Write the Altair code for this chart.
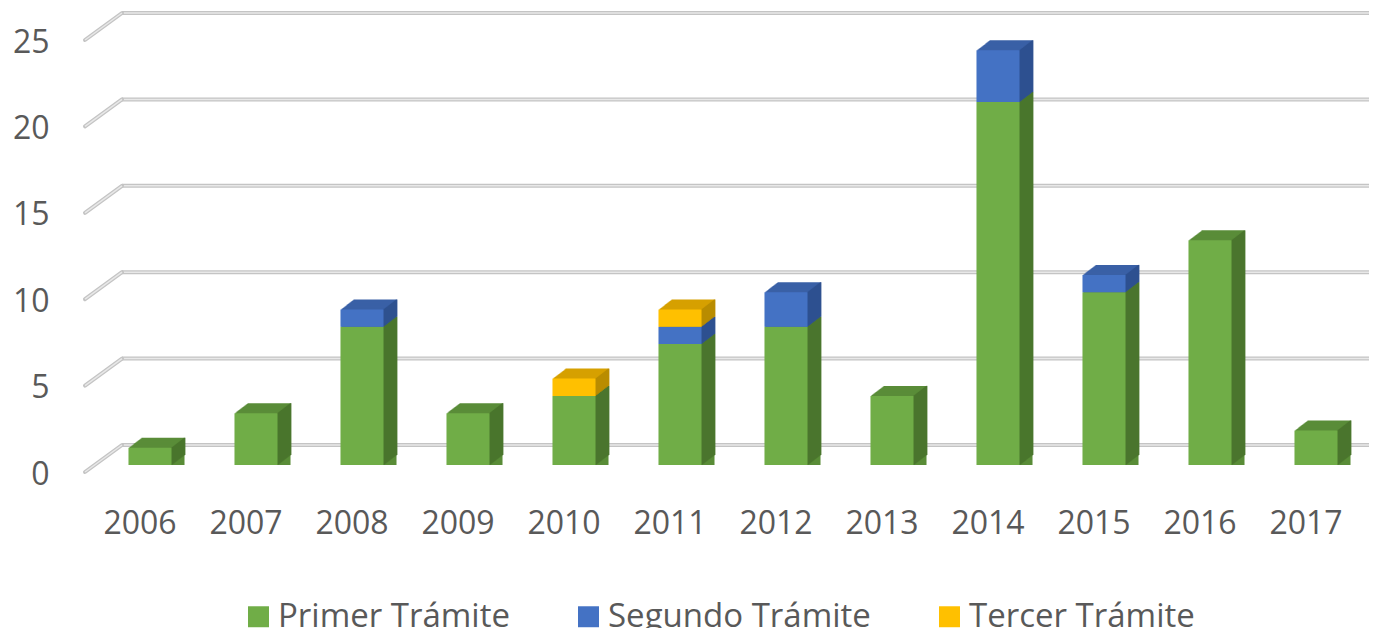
import altair as alt
import pandas as pd

years = ["2006", "2007", "2008", "2009", "2010", "2011", "2012", "2013", "2014", "2015", "2016", "2017"]
primer = [1, 3, 8, 3, 4, 7, 8, 4, 21, 10, 13, 2]
segundo = [0, 0, 1, 0, 0, 1, 2, 0, 3, 1, 0, 0]
tercer = [0, 0, 0, 0, 1, 1, 0, 0, 0, 0, 0, 0]
series = ["Primer Trámite", "Segundo Trámite", "Tercer Trámite"]
colors = ["#70AD47", "#4472C4", "#FFC000"]
top_colors = ["#5A8C38", "#3A61A6", "#D6A000"]
side_colors = ["#4A762D", "#2E5190", "#BA8C00"]
grid_values = [0, 5, 10, 15, 20, 25]

rows = []
for s_i, (name, vals) in enumerate(zip(series, [primer, segundo, tercer])):
    for y, v in zip(years, vals):
        rows.append({"year": y, "serie": name, "value": v, "ord": s_i,
                     "top": top_colors[s_i], "side": side_colors[s_i]})
df = pd.DataFrame(rows)
grid_df = pd.DataFrame({"v": grid_values})

FONT = "Open Sans"
TXT = "#595959"

xscale = alt.Scale(domain=years, paddingInner=0.594, paddingOuter=0.297)
yscale = alt.Scale(domain=[0, 25], nice=False, zero=True)

xaxis = alt.Axis(domain=False, ticks=False, grid=False, labelAngle=0, title=None,
                 labelFont=FONT, labelFontSize=32, labelColor=TXT,
                 labelBaseline="middle", labelPadding=58, labelOffset=-10)
yaxis = alt.Axis(domain=False, ticks=False, grid=False, values=grid_values, title=None,
                 labelFont=FONT, labelFontSize=32, labelColor=TXT,
                 labelBaseline="middle", labelPadding=48, labelOffset=9)

# back wall gridlines
def rule(color, width, **kw):
    return alt.Chart(grid_df).mark_rule(color=color, strokeWidth=width, **kw)

grid_a = rule("#c4c4c4", 4, yOffset=-20).encode(
    y=alt.Y("v:Q", scale=yscale, axis=yaxis), x=alt.value(25), x2=alt.value(1300))
grid_b = rule("#e8e8e8", 1.5, yOffset=-20).encode(
    y=alt.Y("v:Q", scale=yscale, axis=yaxis), x=alt.value(25), x2=alt.value(1300))
diag_a = rule("#c4c4c4", 4, yOffset=7, y2Offset=-20, strokeCap="round").encode(
    y=alt.Y("v:Q", scale=yscale, axis=yaxis), y2="v:Q", x=alt.value(-12), x2=alt.value(25))
diag_b = rule("#e8e8e8", 1.5, yOffset=7, y2Offset=-20).encode(
    y=alt.Y("v:Q", scale=yscale, axis=yaxis), y2="v:Q", x=alt.value(-12), x2=alt.value(25))

base = alt.Chart(df).transform_filter("datum.value > 0").transform_stack(
    stack="value", groupby=["year"], as_=["v0", "v1"], sort=[alt.SortField("ord", order="ascending")]
)

N = 13
DX, DY = 13.0, -10.0
HALF = 21.6  # half bar width in px (band width ~43)

# extrusion (top faces colour)
depth_layers = []
for k in range(N, 0, -1):
    f = k / N
    depth_layers.append(
        base.mark_bar(xOffset=DX * f, yOffset=DY * f, strokeWidth=0).encode(
            x=alt.X("year:N", scale=xscale, axis=xaxis),
            y=alt.Y("v1:Q", scale=yscale, axis=yaxis),
            y2="v0:Q",
            fill=alt.Fill("top:N", scale=None),
        )
    )

# side faces
side_layers = []
for k in range(0, N + 1):
    f = k / N
    side_layers.append(
        base.mark_rule(xOffset=HALF + DX * f, yOffset=DY * f, y2Offset=DY * f, strokeWidth=1.6).encode(
            x=alt.X("year:N", scale=xscale, axis=xaxis),
            y=alt.Y("v1:Q", scale=yscale, axis=yaxis),
            y2="v0:Q",
            stroke=alt.Stroke("side:N", scale=None),
        )
    )

front = base.mark_bar(strokeWidth=0).encode(
    x=alt.X("year:N", scale=xscale, axis=xaxis),
    y=alt.Y("v1:Q", scale=yscale, axis=yaxis),
    y2="v0:Q",
    color=alt.Color("serie:N", scale=alt.Scale(domain=series, range=colors), title=None,
                    legend=alt.Legend(orient="none", legendX=145, legendY=567, direction="horizontal",
                                      symbolType="square", symbolSize=440, symbolStrokeWidth=0,
                                      labelFont=FONT, labelFontSize=33, labelColor=TXT,
                                      labelOffset=3, columnPadding=62, labelLimit=400)),
)

chart = alt.layer(grid_a, grid_b, diag_a, diag_b, *depth_layers, *side_layers, front).properties(
    width=1272, height=432,
    autosize=alt.AutoSizeParams(type="none"),
    padding={"left": 89, "top": 25, "right": 0, "bottom": 163},
    background="white",
).configure_view(stroke=None)

chart.save("out.html", embed_options={"renderer": "svg", "actions": False})
